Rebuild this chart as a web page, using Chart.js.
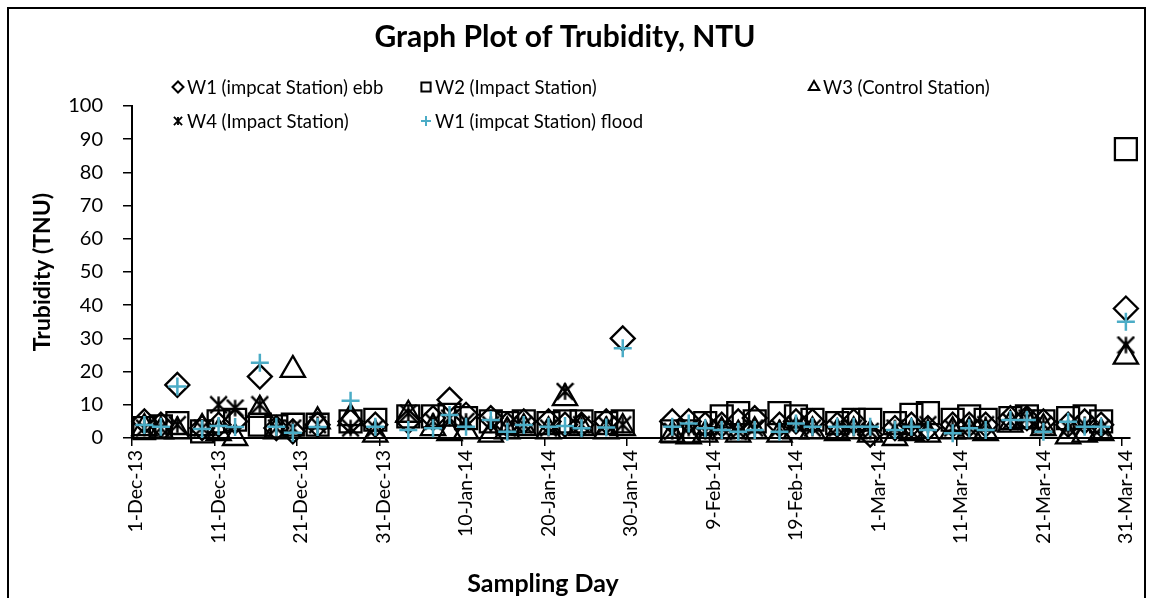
<!DOCTYPE html>
<html>
<head>
<meta charset="utf-8">
<title>Graph Plot of Trubidity, NTU</title>
<script src="https://cdn.jsdelivr.net/npm/chart.js@4.4.1/dist/chart.umd.min.js"></script>
<style>
    html, body { margin: 0; padding: 0; background: #fff; overflow: hidden; }
    #frame { position: absolute; left: 7px; top: 7px; width: 1135px; height: 700px; border: 2px solid #000; }
    #turbidityChart { position: absolute; left: 0; top: 0; }
</style>
</head>
<body>
<div id="frame"></div>
<canvas id="turbidityChart" width="1153" height="598"></canvas>
<script>
// sampling days (Mon / Wed / Fri mostly)
const sampleDays = [
    '2-Dec-13', '4-Dec-13', '6-Dec-13', '9-Dec-13', '11-Dec-13', '13-Dec-13', '16-Dec-13', '18-Dec-13',
    '20-Dec-13', '23-Dec-13', '27-Dec-13', '30-Dec-13', '3-Jan-14', '6-Jan-14', '8-Jan-14', '10-Jan-14',
    '13-Jan-14', '15-Jan-14', '17-Jan-14', '20-Jan-14', '22-Jan-14', '24-Jan-14', '27-Jan-14', '29-Jan-14',
    '4-Feb-14', '6-Feb-14', '8-Feb-14', '10-Feb-14', '12-Feb-14', '14-Feb-14', '17-Feb-14', '19-Feb-14',
    '21-Feb-14', '24-Feb-14', '26-Feb-14', '28-Feb-14', '3-Mar-14', '5-Mar-14', '7-Mar-14', '10-Mar-14',
    '12-Mar-14', '14-Mar-14', '17-Mar-14', '19-Mar-14', '21-Mar-14', '24-Mar-14', '26-Mar-14', '28-Mar-14',
    '31-Mar-14'
];

// turbidity readings, NTU
const w1Ebb = [5, 4, 16, 3, 4, 5, 18.5, 3, 2, 4, 5, 4, 5, 6, 11.5, 7, 6, 4, 5, 5, 4, 4, 5, 30,
    5, 5, 4, 4, 5, 6, 4, 5, 5, 4, 5, 1, 3, 4, 3, 4, 4, 4, 6, 6, 5, 4, 5, 4, 39];
const w2Impact = [3, 3.5, 4.5, 2, 5, 5.5, 4, 3.5, 4, 4, 5, 5.5, 6.5, 6.5, 7, 6, 5, 4.5, 5, 4.5, 5, 5, 4.5, 5,
    2, 2, 4.5, 6.5, 7.5, 5, 7.5, 6.5, 5.5, 4.5, 5.5, 5.5, 4.5, 7, 7.5, 5.5, 6.5, 5.5, 6, 6.5, 5, 6, 6.5, 5, 87];
const w3Control = [3, 2, 2, 3, 1.5, 0, 8.5, 2, 20.5, 5, 6, 1, 7, 3, 1.5, 2, 1, 2, 3, 2, 12, 3, 2, 3,
    1, 0.5, 1, 2, 1, 2, 1, 2, 2, 1.5, 2, 1, 0, 1.5, 1, 2, 2, 1.5, 4, 5, 3, 0.5, 1, 1.5, 24.5];
const w4Impact = [3, 3, 4, 3, 10, 9, 10, 3, 3, 4, 3, 3, 7.5, 5, 6, 5, 4, 3, 4, 3, 14, 4, 4, 4,
    2, 3, 2, 3, 2, 3, 3, 4, 3, 3, 3, 2, 3, 2, 4, 3, 3, 4, 5, 6, 4, 3, 4, 3, 28];
const w1Flood = [3.9, 3.4, 15.5, 2.7, 3.6, 3.3, 22.7, 3.4, 1.6, 3.3, 11.2, 3.4, 2.4, 2.9, 6.9, 3.4, 5.4, 1.9,
    3.9, 3.4, 3.6, 2.9, 3.2, 27, 3.4, 4.4, 2.9, 2.4, 1.9, 2.4, 1.9, 4.4, 3.4, 3.4, 3.4, 3.4, 2.4, 3.4, 2.4,
    1.4, 2.9, 2.4, 5.4, 5.4, 1.9, 4.9, 3.4, 3.4, 35];

const seriesNames = ['W1 (impcat Station) ebb', 'W2 (Impact Station)', 'W3 (Control Station)',
    'W4 (Impact Station)', 'W1 (impcat Station) flood'];

const tickLabels = ['1-Dec-13', '11-Dec-13', '21-Dec-13', '31-Dec-13', '10-Jan-14', '20-Jan-14', '30-Jan-14',
    '9-Feb-14', '19-Feb-14', '1-Mar-14', '11-Mar-14', '21-Mar-14', '31-Mar-14'];
const axisEnd = '1-Apr-14';
const xTitle = 'Sampling Day';

const MONTHS = ['Jan', 'Feb', 'Mar', 'Apr', 'May', 'Jun', 'Jul', 'Aug', 'Sep', 'Oct', 'Nov', 'Dec'];

// days since 1-Dec-13
function toDay(label) {
    const [d, m, y] = label.split('-');
    return Math.round((Date.UTC(2000 + Number(y), MONTHS.indexOf(m), Number(d)) - Date.UTC(2013, 11, 1)) / 86400000);
}

// excel date axis puts each day in the middle of its slot
function toPoints(values) {
    return values.map((v, i) => ({ x: toDay(sampleDays[i]) + 0.5, y: v }));
}

function starMarker(size, lw) {
    const c = document.createElement('canvas');
    c.width = size;
    c.height = size;
    const g = c.getContext('2d');
    g.strokeStyle = '#000';
    g.lineWidth = lw;
    const a = lw / 2, b = size - lw / 2;
    g.beginPath();
    g.moveTo(a, a); g.lineTo(b, b);
    g.moveTo(b, a); g.lineTo(a, b);
    g.moveTo(size / 2, a); g.lineTo(size / 2, b);
    g.stroke();
    return c;
}

const FLOOD_BLUE = '#4BACC6';
const bigStar = starMarker(19, 2.4);
const smallStar = starMarker(10, 1.8);

const styles = [
    { pointStyle: 'rectRot', radius: 12, color: '#000', width: 2.3, legendRadius: 5.5 },
    { pointStyle: 'rect', radius: 15.5, color: '#000', width: 2.3, legendRadius: 6.5 },
    { pointStyle: 'triangle', radius: 14, color: '#000', width: 2.3, legendRadius: 6 },
    { pointStyle: bigStar, radius: 9, color: '#000', width: 2, legendStyle: smallStar },
    { pointStyle: 'cross', radius: 9, color: FLOOD_BLUE, width: 2.5, legendRadius: 5 }
];
const allSeries = [w1Ebb, w2Impact, w3Control, w4Impact, w1Flood];

// legend sits on top of the plot like in the excel sheet
const legendSpots = [[170, 87], [418, 87], [806, 87], [170, 121], [418, 121]];

const excelLegend = {
    id: 'excelLegend',
    afterDraw(chart) {
        const ctx = chart.ctx;
        ctx.save();
        chart.data.datasets.forEach((ds, i) => {
            const [x, y] = legendSpots[i];
            const st = styles[i];
            ctx.strokeStyle = st.color;
            ctx.fillStyle = 'rgba(0,0,0,0)';
            ctx.lineWidth = 2;
            if (st.legendStyle) {
                ctx.drawImage(st.legendStyle, x + 8 - st.legendStyle.width / 2, y - st.legendStyle.height / 2);
            } else {
                Chart.helpers.drawPoint(ctx, { pointStyle: st.pointStyle, radius: st.legendRadius, borderWidth: 2, rotation: 0 }, x + 8, y);
            }
            ctx.fillStyle = '#000';
            ctx.font = '18.5px Lato';
            ctx.textBaseline = 'middle';
            ctx.textAlign = 'left';
            ctx.fillText(ds.label, x + 17, y + 1);
        });

        // x axis title, placed left of centre as in the sheet
        ctx.font = 'bold 25px Lato';
        ctx.textAlign = 'center';
        ctx.fillText(xTitle, 543, 584);
        ctx.restore();
    }
};

Chart.defaults.font.family = 'Lato, sans-serif';
Chart.defaults.color = '#000';

const ctx = document.getElementById('turbidityChart').getContext('2d');
const turbidityChart = new Chart(ctx, {
    type: 'scatter',
    data: {
        datasets: allSeries.map((values, i) => ({
            label: seriesNames[i],
            data: toPoints(values),
            pointStyle: styles[i].pointStyle,
            pointRadius: styles[i].radius,
            pointHoverRadius: styles[i].radius,
            pointBorderColor: styles[i].color,
            pointBackgroundColor: 'rgba(0,0,0,0)',
            pointBorderWidth: styles[i].width,
            showLine: false,
            clip: false,
            order: allSeries.length - i
        }))
    },
    options: {
        responsive: false,
        animation: false,
        layout: {
            padding: { top: 8, left: 0, right: 23, bottom: 0 }
        },
        scales: {
            x: {
                type: 'linear',
                min: 0,
                max: toDay(axisEnd),
                afterBuildTicks: scale => {
                    scale.ticks = tickLabels.map(l => ({ value: toDay(l) }));
                },
                afterFit: scale => { scale.height = 160; },
                border: { color: '#000', width: 2 },
                grid: { drawOnChartArea: false, drawTicks: true, tickLength: 8, color: '#000', lineWidth: 1.5 },
                ticks: {
                    autoSkip: false,
                    minRotation: 90,
                    maxRotation: 90,
                    labelOffset: 4,
                    padding: 4,
                    font: { size: 19.5 },
                    callback: (value, index) => tickLabels[index]
                }
            },
            y: {
                min: 0,
                max: 100,
                afterFit: scale => { scale.width = 132; },
                border: { color: '#000', width: 2 },
                grid: { drawOnChartArea: false, drawTicks: true, tickLength: 9, color: '#000', lineWidth: 1.5 },
                ticks: {
                    stepSize: 10,
                    padding: 20,
                    font: { size: 20 }
                },
                title: {
                    display: true,
                    text: 'Trubidity (TNU)',
                    font: { size: 23, weight: 'bold' },
                    padding: { top: 29, bottom: 0 }
                }
            }
        },
        plugins: {
            legend: { display: false },
            tooltip: { enabled: false },
            title: {
                display: true,
                text: 'Graph Plot of Trubidity, NTU',
                font: { size: 30, weight: 'bold' },
                padding: { top: 11, bottom: 51 }
            }
        }
    },
    plugins: [excelLegend]
});
</script>
</body>
</html>
